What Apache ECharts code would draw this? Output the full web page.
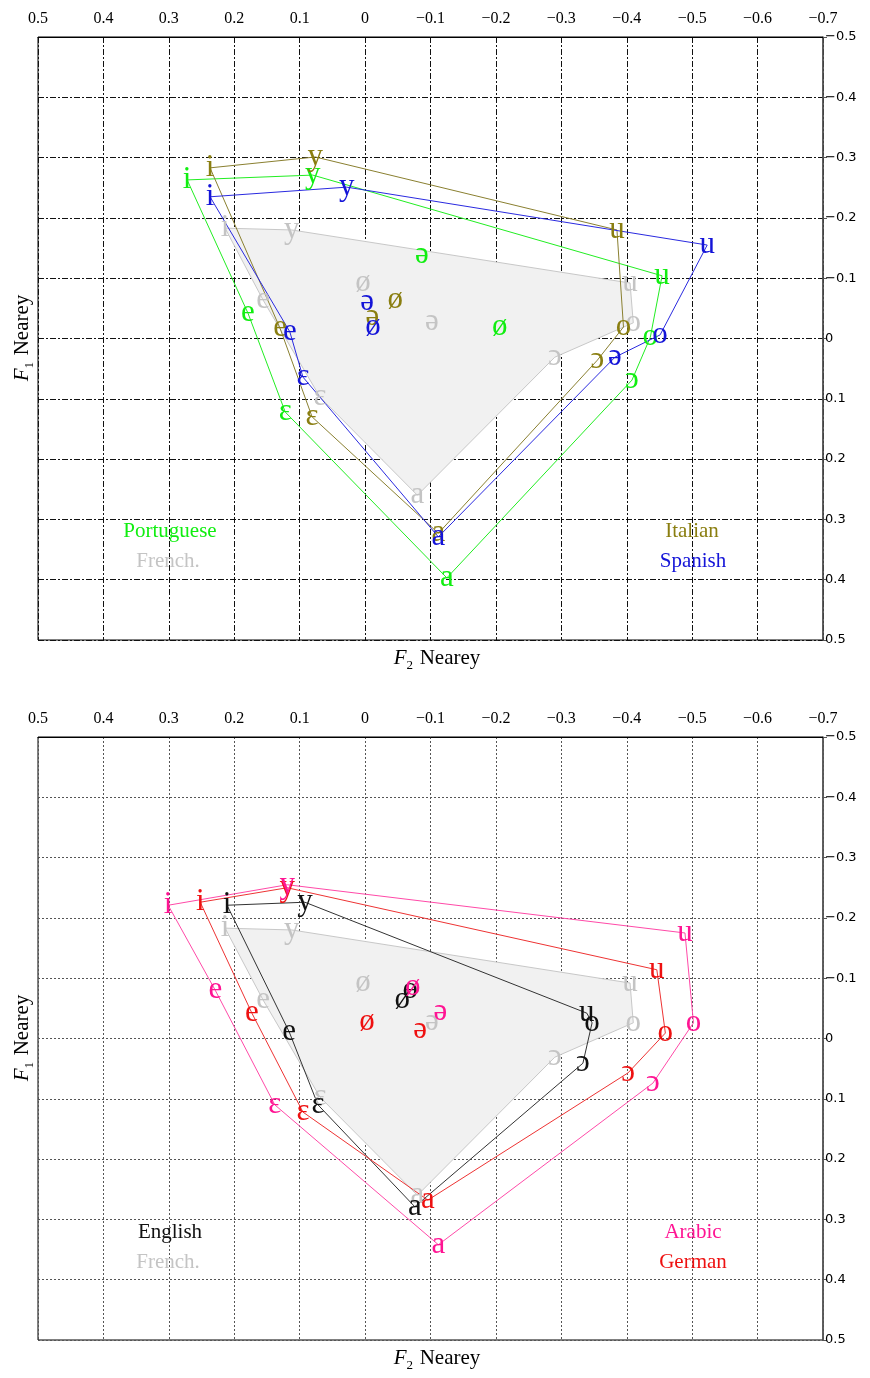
<!DOCTYPE html>
<html>
<head>
<meta charset="utf-8">
<script src="https://cdn.jsdelivr.net/npm/echarts@6/dist/echarts.min.js"></script>
<style>
html,body{margin:0;padding:0;background:#fff;}
#chart{width:870px;height:1378px;}
</style>
</head>
<body>
<div id="chart"></div>
<script>
// Axis ticks
const xTicks = [0.5, 0.4, 0.3, 0.2, 0.1, 0, -0.1, -0.2, -0.3, -0.4, -0.5, -0.6, -0.7];
const yTicks = [-0.5, -0.4, -0.3, -0.2, -0.1, 0, 0.1, 0.2, 0.3, 0.4, 0.5];

// Each language: hull vowels first (in polygon order), then interior vowels.
// French (reference, both panels)
const frenchVowels = ['i','y','u','o','ɔ','a','ɛ','e','ø','ə'];
const frenchF2 = [0.214, 0.112, -0.405, -0.410, -0.290, -0.080, 0.069, 0.156, 0.003, -0.102];
const frenchF1 = [-0.183, -0.180, -0.092, -0.026, 0.031, 0.260, 0.097, -0.064, -0.092, -0.027];
const frenchHullSize = 8;

// Top panel
const portugueseVowels = ['i','y','u','o','ɔ','a','ɛ','e','ə','ø'];
const portugueseF2 = [0.272, 0.080, -0.454, -0.436, -0.408, -0.125, 0.122, 0.179, -0.087, -0.206];
const portugueseF1 = [-0.263, -0.271, -0.104, -0.002, 0.069, 0.397, 0.122, -0.042, -0.138, -0.019];
const portugueseHullSize = 8;

const italianVowels = ['i','y','u','o','ɔ','a','ɛ','e','ø','ə'];
const italianF2 = [0.237, 0.076, -0.385, -0.395, -0.355, -0.112, 0.081, 0.130, -0.046, -0.011];
const italianF1 = [-0.283, -0.301, -0.180, -0.019, 0.036, 0.323, 0.130, -0.017, -0.064, -0.036];
const italianHullSize = 8;

const spanishVowels = ['i','y','u','o','ə','a','ɛ','e','ə','ø'];
const spanishF2 = [0.237, 0.028, -0.523, -0.451, -0.382, -0.112, 0.095, 0.115, -0.003, -0.012];
const spanishF1 = [-0.235, -0.251, -0.155, -0.006, 0.031, 0.329, 0.064, -0.011, -0.061, -0.019];
const spanishHullSize = 8;

// Bottom panel
const englishVowels = ['i','y','u','o','ɔ','a','ɛ','e','ø','ɵ'];
const englishF2 = [0.211, 0.092, -0.339, -0.347, -0.333, -0.076, 0.072, 0.116, -0.057, -0.069];
const englishF1 = [-0.221, -0.226, -0.042, -0.026, 0.041, 0.279, 0.110, -0.011, -0.064, -0.080];
const englishHullSize = 8;

const germanVowels = ['i','y','u','o','ɔ','a','ɛ','e','ø','ə'];
const germanF2 = [0.252, 0.119, -0.446, -0.459, -0.402, -0.096, 0.095, 0.173, -0.003, -0.084];
const germanF1 = [-0.226, -0.250, -0.114, -0.009, 0.057, 0.268, 0.122, -0.042, -0.027, -0.014];
const germanHullSize = 8;

const arabicVowels = ['i','y','u','o','ɔ','a','ɛ','e','ø','ə'];
const arabicF2 = [0.301, 0.119, -0.489, -0.502, -0.440, -0.112, 0.138, 0.229, -0.073, -0.115];
const arabicF1 = [-0.221, -0.255, -0.175, -0.026, 0.074, 0.342, 0.110, -0.080, -0.085, -0.044];
const arabicHullSize = 8;

const SERIF = '"Liberation Serif", "DejaVu Serif", serif';
const VOWEL_FONT = '31px "Liberation Serif", "DejaVu Serif", serif';

function fmt(v) {
  const r = Math.round(v * 10) / 10;
  if (r === 0) return '0';
  return (r < 0 ? '\u2212' : '') + Math.abs(r).toString();
}

function hullSeries(vowels, f2, f1, n, lineColor, idx) {
  const pts = [];
  for (let k = 0; k < n; k++) pts.push([f2[k], f1[k]]);
  pts.push([f2[0], f1[0]]);
  return {
    type: 'line', xAxisIndex: idx, yAxisIndex: idx, data: pts,
    showSymbol: false, symbol: 'none', silent: true, z: 3,
    lineStyle: { color: lineColor, width: 1 }
  };
}
// Vowel labels drawn with a custom series, positioned via api.coord
function labelSeries(vowels, f2, f1, color, idx) {
  return {
    type: 'custom', coordinateSystem: 'cartesian2d', xAxisIndex: idx, yAxisIndex: idx,
    z: 5, silent: true,
    data: vowels.map((v, k) => ({ name: v, value: [f2[k], f1[k]] })),
    renderItem: function (params, api) {
      const p = api.coord([api.value(0), api.value(1)]);
      return { type: 'text', x: p[0], y: p[1],
        style: { text: vowels[params.dataIndex], fill: color, font: VOWEL_FONT,
          textAlign: 'center', textVerticalAlign: 'middle' } };
    }
  };
}
function frenchFill(idx) {
  const pts = [];
  for (let k = 0; k < frenchHullSize; k++) pts.push([frenchF2[k], frenchF1[k]]);
  return {
    type: 'custom', coordinateSystem: 'cartesian2d', xAxisIndex: idx, yAxisIndex: idx,
    z: 1, silent: true,
    data: pts,
    renderItem: function (params, api) {
      if (params.dataIndex !== 0) return null;
      const poly = pts.map(p => api.coord(p));
      return { type: 'polygon', shape: { points: poly },
        style: { fill: '#f1f1f1', stroke: '#c8c8c8', lineWidth: 1 } };
    }
  };
}

function xAxisCfg(idx, splitType, splitColor) {
  return {
    type: 'value', gridIndex: idx, position: 'top', inverse: true,
    min: -0.7, max: 0.5, interval: 0.1,
    axisLine: { show: true, onZero: false, lineStyle: { color: '#000', width: 1 } },
    axisTick: { show: false },
    axisLabel: { formatter: fmt, color: '#000', fontFamily: SERIF, fontSize: 16, margin: 10 },
    splitLine: { show: true, lineStyle: { color: splitColor, type: splitType, width: 1 } }
  };
}
function yAxisCfg(idx, splitType, splitColor) {
  return {
    type: 'value', gridIndex: idx, position: 'right', inverse: true,
    min: -0.5, max: 0.5, interval: 0.1,
    axisLine: { show: true, onZero: false, lineStyle: { color: '#555', width: 1.5 } },
    axisTick: { show: true, inside: false, length: 4, lineStyle: { color: '#555' } },
    axisLabel: { formatter: fmt, color: '#000', fontFamily: '"DejaVu Sans", sans-serif', fontSize: 13, margin: 2 },
    splitLine: { show: true, lineStyle: { color: splitColor, type: splitType, width: 1 } }
  };
}

const topDash = [6, 2, 2, 2];
const botDash = [2, 2];

const cPort = '#11ee11', cPortL = '#22ee22';
const cFr = '#c4c4c4';
const cIt = '#8a7e10', cItL = '#8a8030';
const cSp = '#1414d8', cSpL = '#2a2ae0';
const cEn = '#111111', cEnL = '#333333';
const cDe = '#ee1111', cDeL = '#ee3333';
const cAr = '#ff1493', cArL = '#ff4aa8';

function txt(x, y, text, color, size) {
  return { type: 'text', x: x, y: y, z: 10,
    style: { text: text, fill: color, font: size + 'px ' + SERIF, textAlign: 'center', textVerticalAlign: 'middle' } };
}
function axisTitle(x, y, sub, rot) {
  return { type: 'text', x: x, y: y, rotation: rot, z: 10,
    style: {
      text: '{f|F}{s|' + sub + '}  {n|Nearey}',
      textAlign: 'center', textVerticalAlign: 'middle',
      rich: {
        f: { fontFamily: SERIF, fontStyle: 'italic', fontSize: 21, fill: '#000', verticalAlign: 'bottom' },
        s: { fontFamily: SERIF, fontSize: 13, fill: '#000', verticalAlign: 'bottom', padding: [0, 0, -4, 0] },
        n: { fontFamily: SERIF, fontSize: 21, fill: '#000', verticalAlign: 'bottom' }
      }
    } };
}

const option = {
  animation: false,
  backgroundColor: '#fff',
  grid: [
    { left: 38, right: 47, top: 37, height: 603, show: true, borderColor: '#000', borderWidth: 1 },
    { left: 38, right: 47, top: 737, height: 603, show: true, borderColor: '#000', borderWidth: 1 }
  ],
  xAxis: [xAxisCfg(0, topDash, '#111'), xAxisCfg(1, botDash, '#555')],
  yAxis: [yAxisCfg(0, topDash, '#111'), yAxisCfg(1, botDash, '#555')],
  series: [
    frenchFill(0),
    hullSeries(portugueseVowels, portugueseF2, portugueseF1, portugueseHullSize, cPortL, 0),
    hullSeries(italianVowels, italianF2, italianF1, italianHullSize, cItL, 0),
    hullSeries(spanishVowels, spanishF2, spanishF1, spanishHullSize, cSpL, 0),
    labelSeries(frenchVowels, frenchF2, frenchF1, cFr, 0),
    labelSeries(portugueseVowels, portugueseF2, portugueseF1, cPort, 0),
    labelSeries(italianVowels, italianF2, italianF1, cIt, 0),
    labelSeries(spanishVowels, spanishF2, spanishF1, cSp, 0),

    frenchFill(1),
    hullSeries(englishVowels, englishF2, englishF1, englishHullSize, cEnL, 1),
    hullSeries(germanVowels, germanF2, germanF1, germanHullSize, cDeL, 1),
    hullSeries(arabicVowels, arabicF2, arabicF1, arabicHullSize, cArL, 1),
    labelSeries(frenchVowels, frenchF2, frenchF1, cFr, 1),
    labelSeries(englishVowels, englishF2, englishF1, cEn, 1),
    labelSeries(germanVowels, germanF2, germanF1, cDe, 1),
    labelSeries(arabicVowels, arabicF2, arabicF1, cAr, 1)
  ],
  graphic: [
    txt(170, 531, 'Portuguese', cPort, 21),
    txt(168, 561, 'French.', cFr, 21),
    txt(692, 531, 'Italian', cIt, 21),
    txt(693, 561, 'Spanish', cSp, 21),
    txt(170, 1232, 'English', cEn, 21),
    txt(168, 1262, 'French.', cFr, 21),
    txt(693, 1232, 'Arabic', cAr, 21),
    txt(693, 1262, 'German', cDe, 21),
    axisTitle(437, 658, '2', 0),
    axisTitle(437, 1358, '2', 0),
    axisTitle(22, 338, '1', Math.PI / 2),
    axisTitle(22, 1038, '1', Math.PI / 2)
  ]
};

const chart = echarts.init(document.getElementById('chart'), null, { renderer: 'canvas' });
chart.setOption(option);
</script>
</body>
</html>
